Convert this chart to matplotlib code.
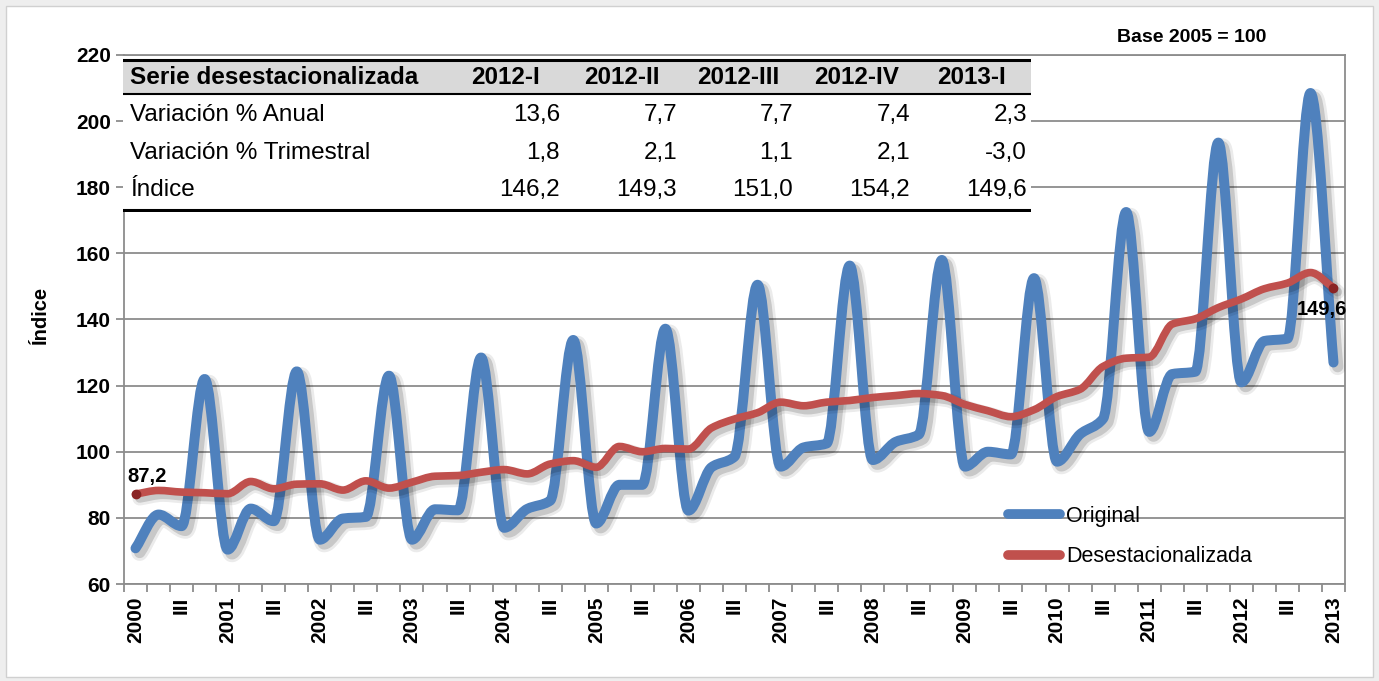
import matplotlib
matplotlib.use("Agg")
import matplotlib.pyplot as plt
import matplotlib.patheffects as pe
import numpy as np
from matplotlib.path import Path
from matplotlib.patches import PathPatch, Rectangle
from matplotlib.lines import Line2D

plt.rcParams['font.family'] = ['Liberation Sans', 'DejaVu Sans']

# Índice trimestral, 2000-I a 2013-I (base 2005 = 100)
years = list(range(2000, 2014))
original = [70.8, 81.0, 77.5, 122.0,
            70.4, 82.8, 79.0, 124.3,
            73.4, 79.8, 80.3, 123.0,
            73.4, 82.6, 82.3, 128.5,
            77.0, 82.7, 85.2, 133.8,
            78.3, 90.0, 90.0, 137.2,
            82.2, 95.3, 98.5, 150.5,
            95.5, 101.3, 102.5, 156.3,
            97.5, 103.0, 105.2, 158.0,
            95.5, 100.0, 99.2, 152.5,
            97.0, 105.3, 110.0, 172.5,
            106.0, 123.5, 124.2, 193.5,
            121.0, 133.5, 134.2, 208.5,
            127.0]
desest = [87.2, 88.3, 87.8, 87.6,
          87.3, 91.0, 88.8, 90.2,
          90.3, 88.4, 91.2, 89.0,
          90.8, 92.6, 92.8, 93.8,
          94.6, 93.3, 96.3, 97.3,
          95.3, 101.6, 100.0, 101.0,
          100.8, 107.2, 109.9, 111.8,
          115.0, 113.9, 115.0, 115.5,
          116.4, 117.0, 117.6, 117.0,
          114.3, 112.4, 110.6, 112.7,
          116.7, 118.9, 125.8, 128.3,
          128.6, 138.6, 140.2, 143.6,
          146.2, 149.3, 151.0, 154.2,
          149.6]

# tabla resumen
table_cols = ["2012-I", "2012-II", "2012-III", "2012-IV", "2013-I"]
row_names = ["Variación % Anual", "Variación % Trimestral", "Índice"]
var_anual = [13.6, 7.7, 7.7, 7.4, 2.3]
var_trim = [1.8, 2.1, 1.1, 2.1, -3.0]
indice_tab = [146.2, 149.3, 151.0, 154.2, 149.6]

BLUE = "#4F81BD"
RED = "#C0504D"
GRID = "#8c8c8c"


def fmt(v):
    return f"{v:.1f}".replace(".", ",")


def smooth_path(x, y):
    # línea suavizada: tangentes monótonas (tipo PCHIP) -> curvas Bezier
    x = np.asarray(x, float)
    y = np.asarray(y, float)
    d = np.diff(y) / np.diff(x)
    m = np.zeros_like(y)
    m[0], m[-1] = d[0], d[-1]
    for i in range(1, len(y) - 1):
        if d[i - 1] * d[i] > 0:
            m[i] = 2 / (1 / d[i - 1] + 1 / d[i])
    verts = [(x[0], y[0])]
    codes = [Path.MOVETO]
    for i in range(len(y) - 1):
        h = x[i + 1] - x[i]
        verts += [(x[i] + h / 3, y[i] + m[i] * h / 3),
                  (x[i + 1] - h / 3, y[i + 1] - m[i + 1] * h / 3),
                  (x[i + 1], y[i + 1])]
        codes += [Path.CURVE4] * 3
    return Path(verts, codes)


def shadow(lw):
    return [pe.SimpleLineShadow(offset=(3, -3), shadow_color="k", alpha=0.08, linewidth=lw + 5),
            pe.SimpleLineShadow(offset=(3, -3), shadow_color="k", alpha=0.15, linewidth=lw + 1),
            pe.Normal()]


W, H = 1379, 681
fig = plt.figure(figsize=(W / 100, H / 100), dpi=100)
fig.patch.set_facecolor("#eeeeee")
fig.add_artist(Rectangle((6 / W, 4 / H), 1 - 12 / W, 1 - 10 / H, transform=fig.transFigure,
                         facecolor="white", edgecolor="#d0d0d0", lw=1, zorder=-10))

ax = fig.add_axes([124 / W, 1 - 584 / H, 1221 / W, 529 / H])
x = np.arange(len(original))

for vals, color, lw in [(original, BLUE, 7.2), (desest, RED, 5.5)]:
    patch = PathPatch(smooth_path(x, vals), fill=False, edgecolor=color, lw=lw,
                      capstyle="round", joinstyle="round", zorder=3)
    patch.set_path_effects(shadow(lw))
    ax.add_patch(patch)

# marcadores y etiquetas de los extremos de la serie desestacionalizada
ax.plot([x[0], x[-1]], [desest[0], desest[-1]], "o", color="#8a2424", ms=6, zorder=4)
ax.annotate(fmt(desest[0]), (x[0], desest[0]), xytext=(8, 13), textcoords="offset points",
            ha="center", va="center", fontsize=14.5, fontweight="bold", zorder=5)
ax.annotate(fmt(desest[-1]), (x[-1], desest[-1]), xytext=(-8, -16), textcoords="offset points",
            ha="center", va="center", fontsize=14.5, fontweight="bold", zorder=5)

ax.set_xlim(-0.5, len(original) - 0.5)
ax.set_ylim(60, 220)
ax.set_yticks(np.arange(60, 221, 20))
ax.yaxis.grid(True, color=GRID, lw=1.3)
ax.set_axisbelow(True)
for s in ax.spines.values():
    s.set_color(GRID)
    s.set_linewidth(1.3)

labels = []
for i in range(0, len(original), 2):
    labels.append(str(years[i // 4]) if i % 4 == 0 else "III")
ax.set_xticks(x[::2])
ax.set_xticklabels(labels, rotation=90, fontsize=15, fontweight="bold")
ax.set_xticks(np.arange(-0.5, len(original), 1), minor=True)
ax.tick_params(axis="x", which="major", length=0, pad=9)
ax.tick_params(axis="x", which="minor", length=6, color=GRID, width=1.3)
ax.tick_params(axis="y", length=6, color=GRID, width=1.3, labelsize=15)
for t in ax.get_yticklabels():
    t.set_fontweight("bold")

fig.text(40 / W, 1 - 315 / H, "Índice", rotation=90, ha="center", va="center",
         fontsize=14.5, fontweight="bold")
fig.text(1192 / W, 1 - 38 / H, "Base 2005 = 100", ha="center", va="center",
         fontsize=14, fontweight="bold")

handles = [Line2D([], [], color=BLUE, lw=7, solid_capstyle="round"),
           Line2D([], [], color=RED, lw=7, solid_capstyle="round")]
ax.legend(handles, ["Original", "Desestacionalizada"], loc="upper left",
          bbox_to_anchor=((1008 - 124) / 1221, (584 - 506) / 529), frameon=False,
          borderpad=0, borderaxespad=0, handlelength=2.4, handletextpad=0.3,
          labelspacing=0.9, fontsize=15.5)

# tabla en la parte superior izquierda
tab = fig.add_axes([123 / W, 1 - 212 / H, (1031 - 123) / W, (212 - 56) / H], zorder=5)
tab.set_xlim(123, 1031)
tab.set_ylim(212, 56)
tab.set_xticks([])
tab.set_yticks([])
for s in tab.spines.values():
    s.set_visible(False)
tab.add_patch(Rectangle((123, 61), 908, 32, facecolor="#d9d9d9", edgecolor="none"))
tab.plot([123, 1031], [60, 60], color="k", lw=2.2)
tab.plot([123, 1031], [94, 94], color="k", lw=1.5)
tab.plot([123, 1031], [210, 210], color="k", lw=2.2)

head_x = [506, 622, 738, 857, 972]
val_x = [560, 677, 793, 910, 1027]
row_y = [115, 153, 190]
tab.text(130, 78, "Serie desestacionalizada", ha="left", va="center", fontsize=17.5, fontweight="bold")
for hx, col in zip(head_x, table_cols):
    tab.text(hx, 78, col, ha="center", va="center", fontsize=17.5, fontweight="bold")
for ry, name, vals in zip(row_y, row_names, [var_anual, var_trim, indice_tab]):
    tab.text(130, ry, name, ha="left", va="center", fontsize=17.5)
    for vx, v in zip(val_x, vals):
        tab.text(vx, ry, fmt(v), ha="right", va="center", fontsize=17.5)

fig.savefig("out.png", dpi=100, facecolor=fig.get_facecolor())
